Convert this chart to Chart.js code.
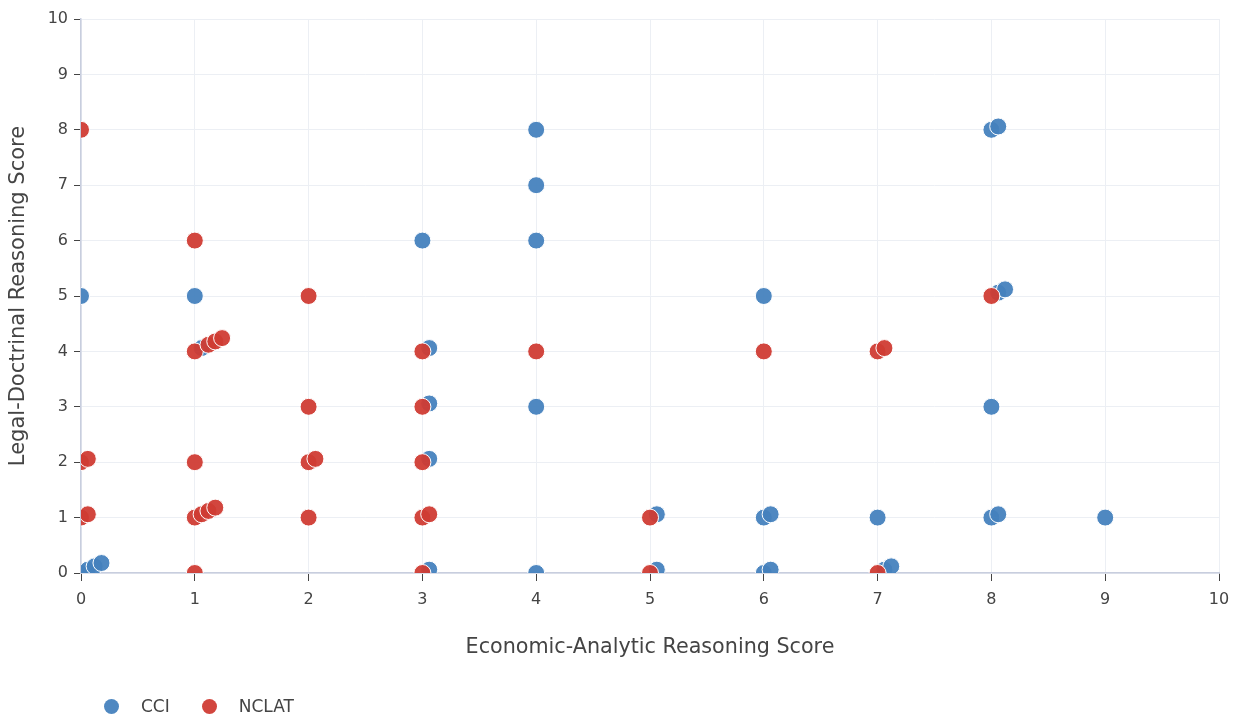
<!DOCTYPE html>
<html>
<head>
<meta charset="utf-8">
<script src="https://cdn.jsdelivr.net/npm/chart.js"></script>
<style>
  body { margin: 0; background: #fff; }
  #wrap { position: relative; width: 1242px; height: 716px; }
  #legend { position: absolute; left: 104px; top: 693px; font: 17px/26px "DejaVu Sans", Verdana, sans-serif; color: #444; display: flex; }
  #legend span.item { display: flex; align-items: center; margin-right: 32px; }
  #legend span.dot { width: 15px; height: 15px; border-radius: 50%; margin-right: 22px; display: inline-block; }
</style>
</head>
<body>
<div id="wrap">
  <canvas id="myChart" width="1242" height="716"></canvas>
  <div id="legend"></div>
</div>
<script>
// CCI points (small offsets are the jitter seen on overlapping scores)
const cciX = [0, 0.06, 0.12, 0.18, 0, 1, 1.06, 3, 3.06, 3.06, 3.06, 3.06, 4, 4, 4, 4, 4,
              5.06, 5.06, 6, 6, 6.06, 6, 6.06, 7, 7.06, 7.12, 8, 8.06, 8.06, 8.12, 8, 8, 8.06, 9];
const cciY = [0, 0.06, 0.12, 0.18, 5, 5, 4.06, 6, 4.06, 3.06, 2.06, 0.06, 8, 7, 6, 3, 0,
              1.06, 0.06, 5, 1, 1.06, 0, 0.06, 1, 0.06, 0.12, 8, 8.06, 5.06, 5.12, 3, 1, 1.06, 1];

// NCLAT points
const nclatX = [0, 1, 2, 1, 1.12, 1.18, 1.24, 3, 3, 3, 4, 6, 7, 7.06, 2, 2, 2.06, 0, 0.06, 0, 0.06,
                1, 1, 1.06, 1.12, 1.18, 2, 3, 3.06, 5, 1, 3, 5, 7, 8];
const nclatY = [8, 6, 5, 4, 4.12, 4.18, 4.24, 4, 3, 2, 4, 4, 4, 4.06, 3, 2, 2.06, 2, 2.06, 1, 1.06,
                2, 1, 1.06, 1.12, 1.18, 1, 1, 1.06, 1, 0, 0, 0, 0, 5];

const seriesNames = ['CCI', 'NCLAT'];
const seriesColors = ['rgba(70,130,190,0.95)', 'rgba(208,60,52,0.95)'];
const axisTicks = [0, 1, 2, 3, 4, 5, 6, 7, 8, 9, 10];

const toPoints = (xs, ys) => xs.map((x, i) => ({x: x, y: ys[i]}));

const font = '"DejaVu Sans", Verdana, sans-serif';

const config = {
    type: 'scatter',
    data: {
        datasets: [{
            label: seriesNames[0],
            data: toPoints(cciX, cciY),
            backgroundColor: seriesColors[0],
            borderColor: '#fff',
            borderWidth: 1,
            pointRadius: 8.5,
            pointHoverRadius: 8.5,
            clip: 0,
            order: 1
        }, {
            label: seriesNames[1],
            data: toPoints(nclatX, nclatY),
            backgroundColor: seriesColors[1],
            borderColor: '#fff',
            borderWidth: 1,
            pointRadius: 8.5,
            pointHoverRadius: 8.5,
            clip: 0,
            order: 0 // drawn on top of CCI
        }]
    },
    options: {
        responsive: false,
        animation: false,
        layout: { padding: { left: 0, right: 23, top: 19, bottom: 52 } },
        plugins: { legend: { display: false }, tooltip: { enabled: false } },
        scales: {
            x: {
                type: 'linear', min: 0, max: 10,
                afterBuildTicks: (s) => { s.ticks = axisTicks.map(v => ({value: v})); },
                afterFit: (s) => { s.height = 716 - 52 - 573; },
                grid: { color: '#eceff4', lineWidth: 1, tickLength: 8, tickColor: '#444' },
                border: { color: '#c8cede', width: 1.5 },
                ticks: { color: '#444', font: { family: font, size: 16 }, padding: 9, maxRotation: 0 },
                title: { display: true, text: 'Economic-Analytic Reasoning Score', color: '#444',
                         font: { family: font, size: 20.7 }, padding: { top: 0, bottom: 4 } }
            },
            y: {
                type: 'linear', min: 0, max: 10,
                afterBuildTicks: (s) => { s.ticks = axisTicks.map(v => ({value: v})); },
                afterFit: (s) => { s.width = 81; },
                grid: { color: '#eceff4', lineWidth: 1, tickLength: 7, tickColor: '#444' },
                border: { color: '#c8cede', width: 1.5 },
                ticks: { color: '#444', font: { family: font, size: 16 }, padding: 6 },
                title: { display: true, text: 'Legal-Doctrinal Reasoning Score', color: '#444',
                         font: { family: font, size: 21 }, padding: { top: 5.5, bottom: 0 } }
            }
        }
    }
};

const myChart = new Chart(document.getElementById('myChart'), config);

// simple legend under the chart, built from the datasets
const legendBox = document.getElementById('legend');
myChart.data.datasets.forEach(ds => {
    const item = document.createElement('span');
    item.className = 'item';
    const dot = document.createElement('span');
    dot.className = 'dot';
    dot.style.background = ds.backgroundColor;
    item.appendChild(dot);
    item.appendChild(document.createTextNode(ds.label));
    legendBox.appendChild(item);
});
</script>
</body>
</html>
